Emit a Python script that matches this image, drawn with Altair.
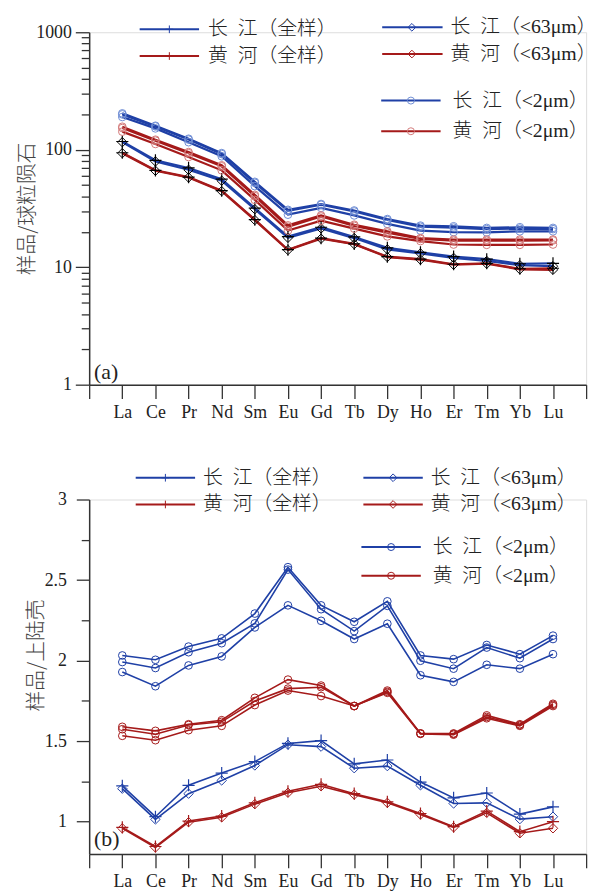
import json
import altair as alt
import pandas as pd

# ---------------- data ----------------
elements = ["La", "Ce", "Pr", "Nd", "Sm", "Eu", "Gd", "Tb", "Dy", "Ho", "Er", "Tm", "Yb", "Lu"]
rivers = ["长江", "黄河"]
legend_labels = ["长\u2002江（全样）", "黄\u2002河（全样）", "长\u2002江（<63μm）", "黄\u2002河（<63μm）",
                 "长\u2002江（<2μm）", "黄\u2002河（<2μm）"]
panel_tags = ["(a)", "(b)"]
y_titles = ["样品/球粒陨石", "样品/上陆壳"]

# (a) chondrite-normalised
a_cj_all = [117.5, 81.3, 70.0, 56.2, 31.8, 18.2, 21.9, 18.1, 14.6, 13.4, 12.3, 11.7, 10.7, 10.8]
a_cj_63 = [116.0, 79.5, 67.5, 54.5, 31.2, 17.8, 21.4, 17.7, 14.2, 13.1, 12.0, 11.3, 10.4, 10.2]
a_hh_all = [94.3, 66.8, 58.5, 44.8, 25.4, 14.1, 17.7, 15.8, 12.3, 11.7, 10.6, 10.8, 9.7, 9.8]
a_hh_63 = [93.5, 66.2, 58.0, 44.4, 25.2, 14.0, 17.5, 15.7, 12.2, 11.6, 10.5, 10.7, 9.6, 9.5]
a_cj_2_1 = [204, 160, 124, 93.6, 53.3, 30.8, 34.5, 30.4, 25.7, 22.6, 22.3, 21.6, 21.9, 21.6]
a_cj_2_2 = [200, 158, 122, 92.0, 52.3, 30.2, 34.0, 29.8, 25.2, 22.1, 21.7, 21.1, 21.3, 21.1]
a_cj_2_3 = [190, 152, 116, 88.0, 49.0, 28.0, 32.0, 27.6, 23.4, 20.5, 19.9, 19.8, 20.2, 20.2]
a_hh_2_1 = [157, 121.7, 95.5, 73.7, 41.3, 22.7, 27.6, 23.0, 20.2, 17.7, 17.2, 17.2, 17.2, 17.2]
a_hh_2_2 = [153, 119.5, 93.5, 72.2, 40.3, 22.1, 27.0, 22.5, 19.7, 17.4, 16.8, 16.8, 16.8, 16.9]
a_hh_2_3 = [142.6, 112, 86.7, 66.8, 37.4, 20.5, 24.9, 21.3, 18.3, 16.7, 15.6, 15.5, 15.5, 15.6]

# (b) upper-continental-crust-normalised
b_cj_all = [1.222, 1.031, 1.226, 1.302, 1.373, 1.486, 1.503, 1.359, 1.383, 1.246, 1.148, 1.178, 1.047, 1.092]
b_cj_63 = [1.205, 1.014, 1.174, 1.256, 1.349, 1.478, 1.466, 1.332, 1.345, 1.226, 1.113, 1.117, 1.016, 1.031]
b_hh_all = [0.965, 0.846, 1.004, 1.035, 1.117, 1.189, 1.232, 1.174, 1.123, 1.051, 0.969, 1.066, 0.938, 1.000]
b_hh_63 = [0.959, 0.840, 0.997, 1.027, 1.109, 1.180, 1.220, 1.168, 1.117, 1.045, 0.965, 1.055, 0.928, 0.959]
b_cj_2_1 = [2.032, 2.005, 2.087, 2.138, 2.292, 2.580, 2.343, 2.241, 2.368, 2.032, 2.009, 2.097, 2.040, 2.155]
b_cj_2_2 = [1.991, 1.954, 2.052, 2.108, 2.231, 2.565, 2.319, 2.183, 2.340, 1.999, 1.950, 2.081, 2.015, 2.134]
b_cj_2_3 = [1.929, 1.841, 1.970, 2.026, 2.206, 2.343, 2.247, 2.134, 2.229, 1.909, 1.868, 1.974, 1.950, 2.040]
b_hh_2_1 = [1.589, 1.564, 1.605, 1.630, 1.769, 1.882, 1.845, 1.718, 1.814, 1.548, 1.548, 1.660, 1.605, 1.732]
b_hh_2_2 = [1.574, 1.543, 1.600, 1.620, 1.749, 1.826, 1.835, 1.718, 1.806, 1.548, 1.545, 1.650, 1.600, 1.725]
b_hh_2_3 = [1.533, 1.506, 1.568, 1.595, 1.724, 1.814, 1.780, 1.718, 1.800, 1.545, 1.540, 1.642, 1.595, 1.718]

# ---------------- styles ----------------
BLUE = "#1f40a6"
RED = "#a51a1a"
LBLUE = "#6f8ed4"
LRED = "#d27a7a"
AX = "#333333"
TXT = "#222222"
LAT = "Liberation Serif"
MIX = "Liberation Serif, Noto Sans CJK SC"
CJK = "Noto Sans CJK SC"
PLUS = "M-1,0L1,0M0,-1L0,1"
W = 502


def build_df(series):
    rows = []
    for river, frac, sid, vals in series:
        for i, v in enumerate(vals):
            rows.append({"pos": i + 1, "v": v, "river": river, "frac": frac, "sid": sid})
    return pd.DataFrame(rows)


df_a = build_df([
    (rivers[0], "all", "cj_all", a_cj_all), (rivers[0], "63", "cj_63", a_cj_63),
    (rivers[1], "all", "hh_all", a_hh_all), (rivers[1], "63", "hh_63", a_hh_63),
    (rivers[0], "2", "cj_2_1", a_cj_2_1), (rivers[0], "2", "cj_2_2", a_cj_2_2), (rivers[0], "2", "cj_2_3", a_cj_2_3),
    (rivers[1], "2", "hh_2_1", a_hh_2_1), (rivers[1], "2", "hh_2_2", a_hh_2_2), (rivers[1], "2", "hh_2_3", a_hh_2_3),
])
df_b = build_df([
    (rivers[0], "all", "cj_all", b_cj_all), (rivers[0], "63", "cj_63", b_cj_63),
    (rivers[1], "all", "hh_all", b_hh_all), (rivers[1], "63", "hh_63", b_hh_63),
    (rivers[0], "2", "cj_2_1", b_cj_2_1), (rivers[0], "2", "cj_2_2", b_cj_2_2), (rivers[0], "2", "cj_2_3", b_cj_2_3),
    (rivers[1], "2", "hh_2_1", b_hh_2_1), (rivers[1], "2", "hh_2_2", b_hh_2_2), (rivers[1], "2", "hh_2_3", b_hh_2_3),
])

x_label_expr = json.dumps([""] + elements + [""]) + "[datum.value]"


def x_enc():
    return alt.X("pos:Q", scale=alt.Scale(domain=[0, 15], nice=False, zero=False),
                 axis=alt.Axis(values=list(range(16)), labelExpr=x_label_expr, tickSize=14,
                               labelPadding=5, labelFont=LAT, labelFontSize=18, labelColor=TXT,
                               labelAngle=0, labelOverlap=False, domainColor=AX, tickColor=AX,
                               domainWidth=1.5, tickWidth=1.3, grid=False, title=None))


def dummy():
    return alt.Data(values=[{"k": 0}])


def legend(entries, mcolors):
    layers = []
    for (label, col, shape, x0, x1, xm, xt, y), mc in zip(entries, mcolors):
        layers.append(alt.Chart(dummy()).mark_rule(color=col, strokeWidth=2).encode(
            x=alt.value(x0), x2=alt.value(x1), y=alt.value(y)))
        layers.append(alt.Chart(dummy()).mark_point(shape=shape, filled=False, color=mc, opacity=1,
                                                    strokeWidth=1.0, size=60 if shape != "circle" else 50).encode(
            x=alt.value(xm), y=alt.value(y)))
        layers.append(alt.Chart(dummy()).mark_text(text=label, align="left", baseline="middle", font=MIX,
                                                   fontSize=20, fontWeight=300, color=TXT).encode(
            x=alt.value(xt), y=alt.value(y)))
    return layers


def panel(df, y, black_markers, circle_cols, line_w, leg, leg_mcols, tag, tag_y):
    base = alt.Chart(df).encode(x=x_enc(), y=y)
    layers = []
    for river, col in zip(rivers, [BLUE, RED]):
        layers.append(base.transform_filter(alt.datum.river == river)
                      .mark_line(color=col, strokeWidth=line_w).encode(detail="sid:N"))
    for river, col, ccol in zip(rivers, [BLUE, RED], circle_cols):
        mc = "black" if black_markers else col
        sub = base.transform_filter(alt.datum.river == river)
        layers.append(sub.transform_filter(alt.datum.frac == "2").mark_point(
            shape="circle", filled=False, color=ccol, opacity=1, size=60, strokeWidth=1))
        layers.append(sub.transform_filter(alt.datum.frac == "63").mark_point(
            shape="diamond", filled=False, color=mc, opacity=1, size=90, strokeWidth=1))
        layers.append(sub.transform_filter(alt.datum.frac == "all").mark_point(
            shape=PLUS, filled=False, color=mc, opacity=1, size=150, strokeWidth=1.2))
    layers += legend(leg, leg_mcols)
    layers.append(alt.Chart(dummy()).mark_text(text=tag, align="left", baseline="middle", font=LAT,
                                               fontSize=22, color=TXT).encode(
        x=alt.value(5), y=alt.value(tag_y)))
    return alt.layer(*layers)


# ---- top panel y axis (log) ----
majors = [1, 10, 100, 1000]
log_vals = [m * k for m in [1, 10, 100] for k in range(1, 10)] + [1000]
maj_test = "indexof(" + json.dumps(majors) + ", datum.value) >= 0"
y_a = alt.Y("v:Q", scale=alt.Scale(type="log", domain=[1, 1000], nice=False),
            axis=alt.Axis(values=log_vals, labelExpr=maj_test + " ? format(datum.value, 'd') : ''",
                          tickSize={"condition": {"test": maj_test, "value": 14}, "value": 8},
                          labelPadding=4, labelFont=LAT, labelFontSize=18, labelColor=TXT,
                          labelOverlap=False, domainColor=AX, tickColor=AX, domainWidth=1.5,
                          tickWidth=1.3, grid=False, title=y_titles[0], titleFont=CJK,
                          titleFontSize=21, titleFontWeight=300, titleColor="#444444",
                          titlePadding=-2))

b_vals = [1.0, 1.25, 1.5, 1.75, 2.0, 2.25, 2.5, 2.75, 3.0]
b_test = "(datum.value * 2) % 1 == 0"
y_b = alt.Y("v:Q", scale=alt.Scale(domain=[0.8, 3], nice=False, zero=False),
            axis=alt.Axis(values=b_vals, labelExpr=b_test + " ? format(datum.value, '~g') : ''",
                          tickSize={"condition": {"test": b_test, "value": 13}, "value": 8},
                          labelPadding=10, labelFont=LAT, labelFontSize=18, labelColor=TXT,
                          labelOverlap=False, domainColor=AX, tickColor=AX, domainWidth=1.5,
                          tickWidth=1.3, grid=False, title=y_titles[1], titleFont=CJK,
                          titleFontSize=21, titleFontWeight=300, titleColor="#444444",
                          titlePadding=-2, titleY=157))

leg_a = [
    (legend_labels[0], BLUE, PLUS, 51, 111, 81, 120, -3),
    (legend_labels[1], RED, PLUS, 51, 111, 81, 120, 24),
    (legend_labels[2], BLUE, "diamond", 296, 357, 326, 365, -5),
    (legend_labels[3], RED, "diamond", 296, 357, 326, 365, 22),
    (legend_labels[4], BLUE, "circle", 295, 355, 325, 367, 69),
    (legend_labels[5], RED, "circle", 295, 355, 325, 367, 100),
]
leg_b = [
    (legend_labels[0], BLUE, PLUS, 47, 107, 77, 115, -22),
    (legend_labels[1], RED, PLUS, 47, 107, 77, 115, 5),
    (legend_labels[2], BLUE, "diamond", 277, 337, 307, 345, -22),
    (legend_labels[3], RED, "diamond", 277, 337, 307, 345, 5),
    (legend_labels[4], BLUE, "circle", 275, 335, 305, 347, 48),
    (legend_labels[5], RED, "circle", 275, 335, 305, 347, 77),
]

top = panel(df_a, y_a, True, [LBLUE, LRED], 2.2, leg_a, [BLUE, RED, BLUE, RED, LBLUE, LRED],
            panel_tags[0], 343).properties(width=W, height=356)
bottom = panel(df_b, y_b, False, [BLUE, RED], 1.6, leg_b, [BLUE, RED, BLUE, RED, BLUE, RED],
               panel_tags[1], 343).properties(width=W, height=358)

chart = alt.vconcat(top, bottom, spacing=116, bounds="flush").properties(
    padding={"left": 8, "top": 4, "right": 0, "bottom": 0}
).configure_view(stroke=None).configure(background="white")

chart.save("out.html", embed_options={"renderer": "svg", "actions": False})
